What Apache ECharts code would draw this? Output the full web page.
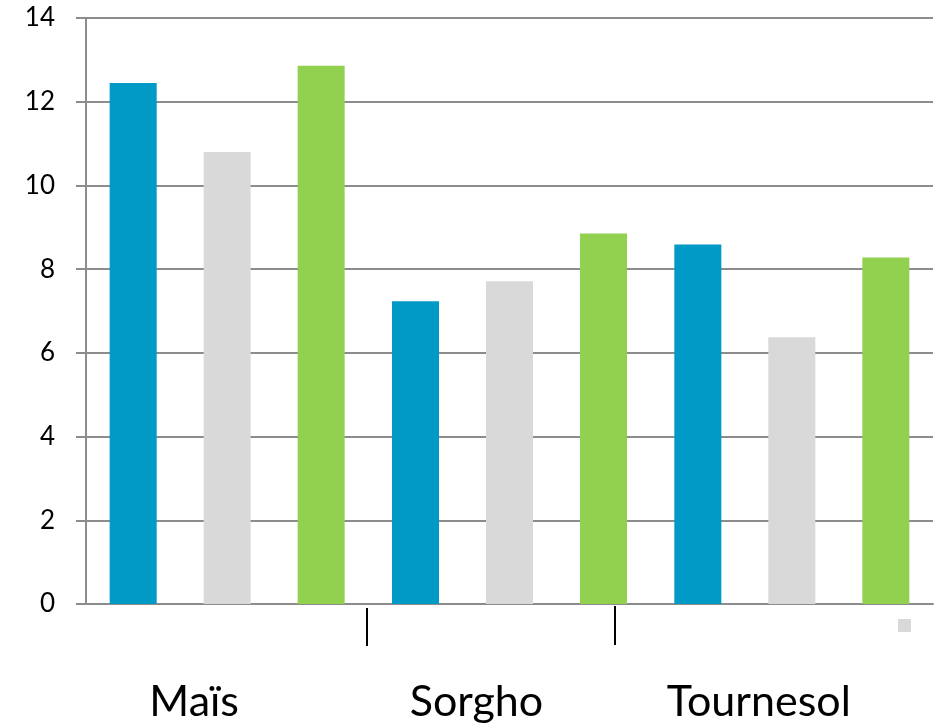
<!DOCTYPE html>
<html>
<head>
<meta charset="utf-8">
<style>
  html, body { margin: 0; padding: 0; background: #ffffff; }
  #chart { width: 946px; height: 725px; }
</style>
<script src="https://cdn.jsdelivr.net/npm/echarts@6/dist/echarts.min.js"></script>
</head>
<body>
<div id="chart"></div>
<script>
// Crops and the three measured series
const categories = ['Maïs', 'Sorgho', 'Tournesol'];
const seriesBlue = [12.45, 7.23, 8.59];
const seriesGray = [10.8, 7.71, 6.37];
const seriesGreen = [12.86, 8.85, 8.28];
const yTicks = [0, 2, 4, 6, 8, 10, 12, 14];

const chart = echarts.init(document.getElementById('chart'), null, { renderer: 'canvas' });

const axisGray = '#8c8c8c';
const fontFamily = 'Lato, "Open Sans", sans-serif';

function barSeries(name, data, color) {
  return {
    name: name,
    type: 'bar',
    data: data,
    barWidth: 47,
    barGap: '100%',
    itemStyle: { color: color },
    silent: true
  };
}

chart.setOption({
  animation: false,
  grid: { left: 86, right: 13, top: 18, bottom: 121, containLabel: false },
  xAxis: {
    type: 'category',
    data: categories,
    boundaryGap: true,
    axisLine: { show: true, lineStyle: { color: axisGray, width: 2 } },
    axisTick: { show: false },
    axisLabel: {
      color: '#000000',
      fontFamily: fontFamily,
      fontSize: 43,
      margin: 77,
      padding: [0, 66, 0, 0]
    }
  },
  yAxis: {
    type: 'value',
    min: yTicks[0],
    max: yTicks[yTicks.length - 1],
    interval: 2,
    axisLine: { show: true, lineStyle: { color: axisGray, width: 2 } },
    axisTick: { show: true, length: 10, lineStyle: { color: axisGray, width: 2 } },
    splitLine: { show: true, lineStyle: { color: axisGray, width: 2 } },
    axisLabel: {
      color: '#000000',
      fontFamily: fontFamily,
      fontSize: 26,
      margin: 31
    }
  },
  series: [
    barSeries('Série 1', seriesBlue, '#0199c5'),
    barSeries('Série 2', seriesGray, '#d9d9d9'),
    barSeries('Série 3', seriesGreen, '#92d050')
  ],
  graphic: [
    { type: 'line', shape: { x1: 367, y1: 608, x2: 367, y2: 646 }, style: { stroke: '#000000', lineWidth: 2 } },
    { type: 'line', shape: { x1: 615, y1: 606, x2: 615, y2: 645 }, style: { stroke: '#000000', lineWidth: 2 } },
    { type: 'rect', shape: { x: 898, y: 619, width: 13, height: 13 }, style: { fill: '#d9d9d9' } }
  ]
});
</script>
</body>
</html>
